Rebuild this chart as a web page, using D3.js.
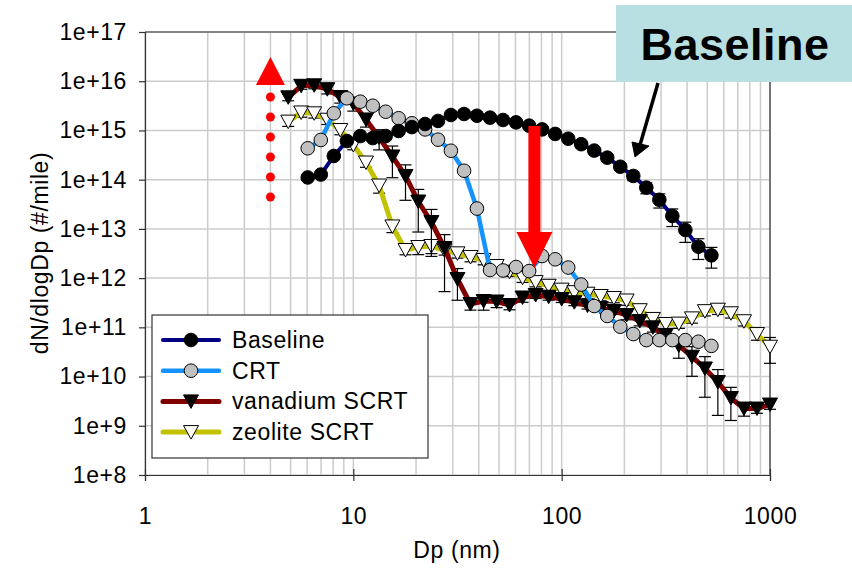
<!DOCTYPE html>
<html>
<head>
<meta charset="utf-8">
<script src="https://cdn.jsdelivr.net/npm/d3@7"></script>
<style>
  body { margin: 0; background: #fff; }
  text { font-family: "Liberation Sans", Arial, sans-serif; letter-spacing: 0.6px; }
</style>
</head>
<body>
<div id="chart"></div>
<script>
// chart size - same as the window
var width = 852,
    height = 568;

// plot area edges (not called "top" - that one belongs to window)
var plotLeft = 145, plotRight = 770, plotTop = 32, plotBottom = 475;

// particle diameters (nm) - two size grids
var dpEeps = [6.04, 6.98, 8.06, 9.31, 10.8, 12.4, 14.3, 16.5, 19.1, 22.1, 25.5, 29.4, 34.0, 39.2, 45.3, 52.3,
              60.4, 69.8, 80.6, 93.1, 107.5, 124.1, 143.3, 165.5, 191.1, 220.7, 254.8, 294.3, 339.8, 392.4, 453.2, 523.3];
var dpWide = [4.87, 5.62, 6.49, 7.50, 8.66, 10.0, 11.5, 13.3, 15.4, 17.8, 20.5, 23.7, 27.4, 31.6, 36.5, 42.2,
              48.7, 56.2, 64.9, 75.0, 86.6, 100, 115, 133, 154, 178, 205, 237, 274, 316, 365, 422, 487, 562, 649, 750, 866, 1000];

// dN/dlogDp values
var baseline = [1.11e14, 1.27e14, 3.03e14, 6.1e14, 7.7e14, 7.0e14, 7.7e14, 9.75e14, 1.17e15, 1.35e15, 1.56e15, 2.06e15,
                2.16e15, 1.99e15, 1.82e15, 1.63e15, 1.46e15, 1.25e15, 1.05e15, 8.5e14, 6.8e14, 5.25e14, 3.9e14, 2.8e14,
                1.83e14, 1.19e14, 6.9e13, 3.9e13, 1.83e13, 9.5e12, 4.35e12, 2.9e12];
var crt = [4.34e14, 6.4e14, 2.23e15, 4.5e15, 3.84e15, 3.18e15, 2.40e15, 1.77e15, 1.40e15, 1.05e15, 6.5e14, 3.87e14,
           1.52e14, 2.59e13, 1.46e12, 1.43e12, 1.68e12, 1.39e12, 2.81e12, 2.41e12, 1.64e12, 7.4e11, 2.71e11, 1.70e11,
           1.03e11, 7.3e10, 5.5e10, 5.5e10, 5.5e10, 5.5e10, 5.1e10, 4.2e10];
var vanadium = [4.71e15, 8.07e15, 8.26e15, 6.89e15, 4.78e15, 3.53e15, 1.67e15, 7.19e14, 2.96e14, 1.19e14, 3.6e13, 1.38e13,
                4.09e12, 9.6e11, 2.98e11, 3.43e11, 3.35e11, 2.84e11, 4.04e11, 4.54e11, 4.19e11, 3.76e11, 3.24e11, 2.77e11,
                2.47e11, 2.15e11, 1.78e11, 1.34e11, 1.0e11, 6.98e10, 4.28e10, 2.53e10, 1.46e10, 7.74e9, 3.66e9, 2.24e9,
                2.24e9, 2.70e9];
var zeolite = [1.51e15, 2.32e15, 2.23e15, 1.65e15, 1.02e15, 5.06e14, 2.23e14, 7.6e13, 1.12e13, 3.72e12, 4.28e12, 4.49e12,
               3.67e12, 3.19e12, 2.68e12, 2.33e12, 1.76e12, 1.35e12, 1.02e12, 8.3e11, 6.98e11, 5.83e11, 5.18e11, 4.82e11,
               4.33e11, 3.94e11, 3.51e11, 2.23e11, 1.48e11, 1.17e11, 1.19e11, 1.52e11, 2.13e11, 2.28e11, 1.93e11, 1.33e11,
               7.3e10, 4.04e10];

// relative error (std dev / value) for the error bars
var baselineErr = [0.1, 0.1, 0.1, 0.1, 0.1, 0.1, 0.1, 0.1, 0.1, 0.1, 0.1, 0.1, 0.1, 0.1, 0.1, 0.1,
                   0.1, 0.1, 0.1, 0.1, 0.1, 0.12, 0.12, 0.15, 0.15, 0.2, 0.25, 0.32, 0.39, 0.44, 0.45, 0.45];
var crtErr = [0.1, 0.1, 0.1, 0.1, 0.1, 0.1, 0.1, 0.1, 0.1, 0.12, 0.12, 0.15, 0.15, 0.15, 0.1, 0.1,
              0.1, 0.1, 0.1, 0.1, 0.1, 0.1, 0.1, 0.1, 0.1, 0.1, 0.1, 0.1, 0.1, 0.1, 0.1, 0.1];
var vanadiumErr = [0.15, 0.15, 0.15, 0.2, 0.25, 0.3, 0.3, 0.44, 0.63, 0.68, 0.76, 0.8, 0.87, 0.63, 0.25, 0.35,
                   0.25, 0.2, 0.2, 0.15, 0.15, 0.15, 0.15, 0.15, 0.15, 0.15, 0.2, 0.2, 0.2, 0.3, 0.45, 0.6,
                   0.74, 0.79, 0.65, 0.3, 0.2, 0.2];
var zeoliteErr = [0.2, 0.2, 0.2, 0.2, 0.2, 0.2, 0.2, 0.3, 0.25, 0.2, 0.3, 0.3, 0.2, 0.2, 0.2, 0.2,
                  0.2, 0.2, 0.2, 0.2, 0.2, 0.2, 0.2, 0.2, 0.2, 0.2, 0.2, 0.2, 0.25, 0.25, 0.2, 0.2,
                  0.2, 0.2, 0.2, 0.2, 0.25, 0.54];

// tick labels
var xTicks = [1, 10, 100, 1000];
var yTicks = [1e8, 1e9, 1e10, 1e11, 1e12, 1e13, 1e14, 1e15, 1e16, 1e17];
var seriesNames = ["Baseline", "CRT", "vanadium SCRT", "zeolite SCRT"];

var svg = d3.select("#chart")
            .append("svg")
            .attr("width", width)
            .attr("height", height);

var x = d3.scaleLog().domain([1, 1000]).range([plotLeft, plotRight]);
var y = d3.scaleLog().domain([1e8, 1e17]).range([plotBottom, plotTop]);

// gridlines - vertical at every log tick, horizontal only at decades
svg.append("g").selectAll("line")
   .data(x.ticks())
   .enter().append("line")
   .attr("x1", function(d) { return x(d); })
   .attr("x2", function(d) { return x(d); })
   .attr("y1", plotTop).attr("y2", plotBottom)
   .style("stroke", "#cccccc").style("stroke-width", 1.5);

svg.append("g").selectAll("line")
   .data(yTicks)
   .enter().append("line")
   .attr("x1", plotLeft).attr("x2", plotRight)
   .attr("y1", function(d) { return y(d); })
   .attr("y2", function(d) { return y(d); })
   .style("stroke", "#cccccc").style("stroke-width", 1.5);

// frame on top and right
svg.append("path")
   .attr("d", "M" + plotLeft + "," + plotTop + "H" + plotRight + "V" + plotBottom)
   .style("fill", "none").style("stroke", "#333").style("stroke-width", 1.2);

// axes
var yAxis = svg.append("g")
   .attr("transform", "translate(" + plotLeft + ",0)")
   .call(d3.axisLeft(y).tickValues(yTicks).tickSize(6).tickPadding(12)
          .tickFormat(function(d) { return "1e+" + Math.round(Math.log10(d)); }));

var xAxis = svg.append("g")
   .attr("transform", "translate(0," + plotBottom + ")")
   .call(d3.axisBottom(x).tickValues(xTicks).tickSize(6).tickPadding(27)
          .tickFormat(d3.format("d")));

xAxis.selectAll(".tick line").attr("y1", -6);

[xAxis, yAxis].forEach(function(a) {
  a.select(".domain").style("stroke", "#333").style("stroke-width", 1.2);
  a.selectAll(".tick line").style("stroke", "#333").style("stroke-width", 1.2);
  a.selectAll("text").style("font-size", "23px").style("fill", "#000")
   .style("font-family", "'Liberation Sans', Arial, sans-serif");
});

// axis titles
svg.append("text")
   .attr("x", 457).attr("y", 558)
   .attr("text-anchor", "middle")
   .style("font-size", "23px")
   .text("Dp (nm)");

svg.append("text")
   .attr("transform", "translate(48,253) rotate(-90)")
   .attr("text-anchor", "middle")
   .style("font-size", "23px")
   .text("dN/dlogDp (#/mile)");

// series definitions - colours and marker types
var series = [
  { name: seriesNames[3], dp: dpWide, v: zeolite, err: zeoliteErr, line: "#c2c200", width: 5, marker: "tri", fill: "#fff" },
  { name: seriesNames[2], dp: dpWide, v: vanadium, err: vanadiumErr, line: "#800000", width: 5, marker: "tri", fill: "#000" },
  { name: seriesNames[1], dp: dpEeps, v: crt, err: crtErr, line: "#1493ff", width: 4.5, marker: "circle", fill: "#c0c0c0" },
  { name: seriesNames[0], dp: dpEeps, v: baseline, err: baselineErr, line: "#000080", width: 4, marker: "circle", fill: "#000" }
];

var line = d3.line()
   .x(function(d) { return x(d[0]); })
   .y(function(d) { return y(d[1]); });

function triPath(cx, cy) {
  return "M" + (cx - 7.5) + "," + (cy - 6.5) + "L" + (cx + 7.5) + "," + (cy - 6.5) + "L" + cx + "," + (cy + 7) + "Z";
}

function drawMarker(g, m, cx, cy, fill) {
  if (m === "circle") {
    g.append("circle").attr("cx", cx).attr("cy", cy).attr("r", 6.8)
     .style("fill", fill).style("stroke", "#000").style("stroke-width", 1);
  } else {
    g.append("path").attr("d", triPath(cx, cy))
     .style("fill", fill).style("stroke", "#000").style("stroke-width", 1);
  }
}

series.forEach(function(s) {
  var pts = s.dp.map(function(d, i) { return [d, s.v[i], s.err[i]]; });
  var g = svg.append("g");

  // error bars (mean +/- sd)
  pts.forEach(function(p) {
    var cx = x(p[0]),
        y1 = y(p[1] * (1 + p[2])),
        y2 = y(p[1] * (1 - p[2]));
    var e = g.append("g").style("stroke", "#000").style("stroke-width", 1.2);
    e.append("line").attr("x1", cx).attr("x2", cx).attr("y1", y1).attr("y2", y2);
    e.append("line").attr("x1", cx - 6).attr("x2", cx + 6).attr("y1", y1).attr("y2", y1);
    e.append("line").attr("x1", cx - 6).attr("x2", cx + 6).attr("y1", y2).attr("y2", y2);
  });

  g.append("path")
   .datum(pts)
   .attr("d", line)
   .style("fill", "none")
   .style("stroke", s.line)
   .style("stroke-width", s.width)
   .style("stroke-linejoin", "round");

  pts.forEach(function(p) {
    drawMarker(g, s.marker, x(p[0]), y(p[1]), s.fill);
  });
});

// legend
var legend = svg.append("g");
legend.append("rect")
   .attr("x", 152).attr("y", 315).attr("width", 276).attr("height", 143)
   .style("fill", "#fff").style("stroke", "#333").style("stroke-width", 1.2);

series.slice().reverse().forEach(function(s, i) {
  var ly = 340 + i * 30.7;
  legend.append("line")
     .attr("x1", 163).attr("x2", 219).attr("y1", ly).attr("y2", ly)
     .style("stroke", s.line).style("stroke-width", s.width)
     .style("stroke-linecap", "round");
  drawMarker(legend, s.marker, 191, ly, s.fill);
  legend.append("text")
     .attr("x", 232).attr("y", ly + 8)
     .style("font-size", "23px")
     .text(s.name);
});

// red arrow pointing up with dotted tail
var upX = x(4.0);
svg.append("path")
   .attr("d", "M" + upX + ",57L" + (upX + 14.5) + ",85L" + (upX - 14.5) + ",85Z")
   .style("fill", "#ff0000");
svg.append("g").selectAll("circle")
   .data([97, 117, 137, 157, 177, 197])
   .enter().append("circle")
   .attr("cx", upX).attr("cy", function(d) { return d; })
   .attr("r", 4.5)
   .style("fill", "#ff0000");

// red arrow pointing down
var downX = x(74);
svg.append("rect")
   .attr("x", downX - 6).attr("y", 126).attr("width", 12).attr("height", 107)
   .style("fill", "#ff0000");
svg.append("path")
   .attr("d", "M" + (downX - 18) + ",232L" + (downX + 18) + ",232L" + downX + ",268Z")
   .style("fill", "#ff0000");

// "Baseline" call-out box and its arrow
svg.append("rect")
   .attr("x", 616).attr("y", 5).attr("width", 236).attr("height", 77)
   .style("fill", "#b8dfe1");
svg.append("text")
   .attr("x", 735).attr("y", 60)
   .attr("text-anchor", "middle")
   .style("font-size", "45px")
   .style("font-weight", "bold")
   .style("letter-spacing", "0.5px")
   .text("Baseline");
svg.append("line")
   .attr("x1", 658).attr("y1", 83).attr("x2", 640).attr("y2", 145)
   .style("stroke", "#000").style("stroke-width", 3.5);
svg.append("path")
   .attr("d", "M635,157L632,142L649,146Z")
   .style("fill", "#000").style("stroke", "#000").style("stroke-width", 1);
</script>
</body>
</html>
